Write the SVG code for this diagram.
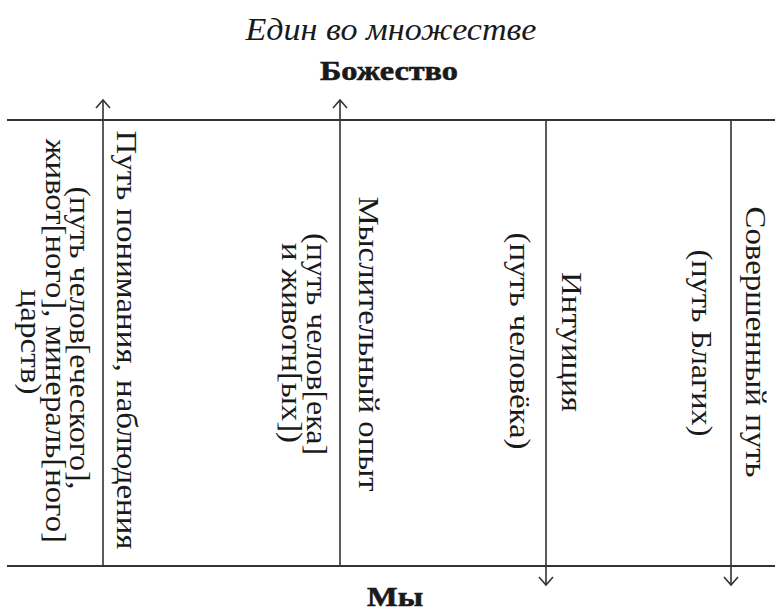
<svg xmlns="http://www.w3.org/2000/svg" width="775" height="611" viewBox="0 0 775 611">
<style>
  .t { font-family: "Liberation Serif", "Times New Roman", serif; fill: #1a1a1a; }
  .lbl { font-size: 30px; text-anchor: middle; }
  .title { font-size: 32px; font-style: italic; text-anchor: middle; }
  .head { font-size: 28px; font-weight: bold; text-anchor: middle; stroke: #1a1a1a; stroke-width: 0.6; }
  .ln { stroke: #333; stroke-width: 1.6; fill: none; }
  .hl { stroke: #333; stroke-width: 2; fill: none; }
</style>
<defs>
  <marker id="arr" viewBox="-10 -9 12 18" refX="0" refY="0" markerWidth="12" markerHeight="18" markerUnits="userSpaceOnUse" orient="auto" overflow="visible">
    <path d="M-8,-7 L0,0 L-8,7" fill="none" stroke="#333" stroke-width="1.6"/>
  </marker>
</defs>
<rect width="775" height="611" fill="#fff"/>

<g id="title">
  <text class="t title" x="391" y="40" textLength="291" lengthAdjust="spacingAndGlyphs">Един во множестве</text>
</g>
<g id="top-node">
  <text class="t head" x="389" y="80" textLength="138" lengthAdjust="spacingAndGlyphs">Божество</text>
</g>
<g id="bottom-node">
  <text class="t head" x="395" y="606" textLength="56" lengthAdjust="spacingAndGlyphs">Мы</text>
</g>

<g id="connectors">
  <line class="hl" x1="7" y1="120" x2="775" y2="120"/>
  <line class="hl" x1="7" y1="566" x2="775" y2="566"/>
  <line class="ln" x1="103" y1="566" x2="103" y2="100" marker-end="url(#arr)"/>
  <line class="ln" x1="340" y1="566" x2="340" y2="100" marker-end="url(#arr)"/>
  <line class="ln" x1="546" y1="120" x2="546" y2="585" marker-end="url(#arr)"/>
  <line class="ln" x1="731" y1="120" x2="731" y2="585" marker-end="url(#arr)"/>
</g>

<g id="path-kingdoms">
  <text class="t lbl" transform="translate(70,338) rotate(90)" textLength="303" lengthAdjust="spacingAndGlyphs">(путь челов[еческого],</text>
  <text class="t lbl" transform="translate(46,341) rotate(90)" textLength="404" lengthAdjust="spacingAndGlyphs">живот[ного], минераль[ного]</text>
  <text class="t lbl" transform="translate(21,342) rotate(90)" textLength="105" lengthAdjust="spacingAndGlyphs">царств)</text>
</g>
<g id="path-understanding">
  <text class="t lbl" transform="translate(117,340) rotate(90)" textLength="419" lengthAdjust="spacingAndGlyphs">Путь понимания, наблюдения</text>
</g>
<g id="path-man-animals">
  <text class="t lbl" transform="translate(307,344) rotate(90)" textLength="222" lengthAdjust="spacingAndGlyphs">(путь челов[ека]</text>
  <text class="t lbl" transform="translate(282,343) rotate(90)" textLength="200" lengthAdjust="spacingAndGlyphs">и животн[ых])</text>
</g>
<g id="mental-experience">
  <text class="t lbl" transform="translate(359,344) rotate(90)" textLength="295" lengthAdjust="spacingAndGlyphs">Мыслительный опыт</text>
</g>
<g id="path-man">
  <text class="t lbl" transform="translate(510,341) rotate(90)" textLength="217" lengthAdjust="spacingAndGlyphs">(путь человёка)</text>
</g>
<g id="intuition">
  <text class="t lbl" transform="translate(562,342) rotate(90)" textLength="140" lengthAdjust="spacingAndGlyphs">Интуиция</text>
</g>
<g id="path-blessed">
  <text class="t lbl" transform="translate(692,343) rotate(90)" textLength="187" lengthAdjust="spacingAndGlyphs">(путь Благих)</text>
</g>
<g id="perfect-path">
  <text class="t lbl" transform="translate(746,342) rotate(90)" textLength="271" lengthAdjust="spacingAndGlyphs">Совершенный путь</text>
</g>
</svg>
